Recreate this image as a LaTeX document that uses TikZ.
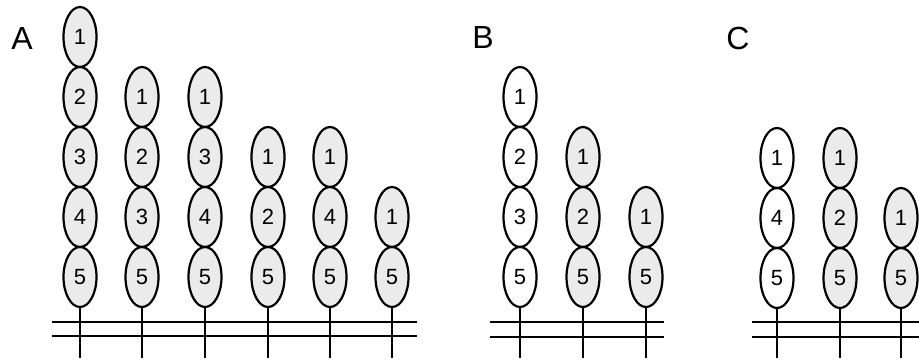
\documentclass[tikz,border=0pt]{standalone}
\usepackage{fontspec}
\setmainfont{Liberation Sans}
\usetikzlibrary{shapes.geometric}
\definecolor{cellgrey}{RGB}{235,235,235}
\begin{document}
\begin{tikzpicture}[x=1pt,y=-1pt,
  cell/.style={ellipse, draw, line width=2.2pt, minimum width=33pt,
    minimum height=60pt, inner sep=0pt, font=\fontsize{22}{22}\selectfont},
  shaded/.style={cell, fill=cellgrey},
  plain/.style={cell, fill=white},
  rail/.style={line width=2.2pt},
  panel/.style={font=\fontsize{32}{32}\selectfont, anchor=center}]
\useasboundingbox (0,0) rectangle (919,362);

% panel letters
\node[panel] (labA) at (22,38) {A};
\node[panel] (labB) at (483,37) {B};
\node[panel] (labC) at (738,38) {C};

% one column of stacked cells: name, x, style, list of label/y
\newcommand{\cellcolumn}[4]{%
  \foreach \lab/\yy in {#4} \node[#3] (#1-\lab) at (#2,\yy) {\lab};
  \coordinate (#1-foot) at (#2,358);
  \draw[rail] (#1-5.south) -- (#1-foot);
}

% panel A
\cellcolumn{A1}{80}{shaded}{1/37,2/97,3/157,4/217,5/277}
\cellcolumn{A2}{142}{shaded}{1/97,2/157,3/217,5/277}
\cellcolumn{A3}{205}{shaded}{1/97,3/157,4/217,5/277}
\cellcolumn{A4}{268}{shaded}{1/157,2/217,5/277}
\cellcolumn{A5}{330}{shaded}{1/157,4/217,5/277}
\cellcolumn{A6}{392}{shaded}{1/217,5/277}
\coordinate (A-l1) at (52,322);  \coordinate (A-r1) at (417,322);
\coordinate (A-l2) at (52,336);  \coordinate (A-r2) at (417,336);
\draw[rail] (A-l1) -- (A-r1);
\draw[rail] (A-l2) -- (A-r2);

% panel B
\cellcolumn{B1}{520}{plain}{1/97,2/157,3/217,5/277}
\cellcolumn{B2}{583}{shaded}{1/157,2/217,5/277}
\cellcolumn{B3}{646}{shaded}{1/217,5/277}
\coordinate (B-l1) at (490,322); \coordinate (B-r1) at (664,322);
\coordinate (B-l2) at (490,337); \coordinate (B-r2) at (664,337);
\draw[rail] (B-l1) -- (B-r1);
\draw[rail] (B-l2) -- (B-r2);

% panel C
\cellcolumn{C1}{777}{plain}{1/158,4/218,5/278}
\cellcolumn{C2}{840}{shaded}{1/158,2/218,5/278}
\cellcolumn{C3}{901}{shaded}{1/218,5/278}
\coordinate (C-l1) at (752,322); \coordinate (C-r1) at (919,322);
\coordinate (C-l2) at (752,337); \coordinate (C-r2) at (919,337);
\draw[rail] (C-l1) -- (C-r1);
\draw[rail] (C-l2) -- (C-r2);
\end{tikzpicture}
\end{document}
